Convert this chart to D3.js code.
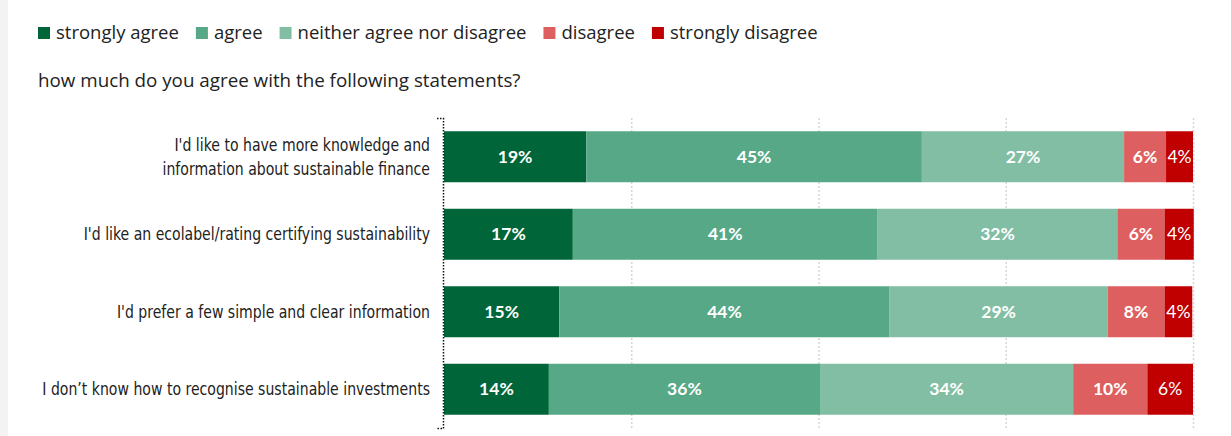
<!DOCTYPE html>
<html>
<head>
<meta charset="utf-8">
<script src="https://cdn.jsdelivr.net/npm/d3@7"></script>
<style>
  html, body { margin: 0; padding: 0; background: #fff; }
  svg { display: block; }
</style>
</head>
<body>
<svg id="chart" width="1231" height="436"></svg>
<script>
const categories = [
  ["I'd like to have more knowledge and", "information about sustainable finance"],
  ["I'd like an ecolabel/rating certifying sustainability"],
  ["I'd prefer a few simple and clear information"],
  ["I don\u2019t know how to recognise sustainable investments"]
];
const seriesNames = ["strongly agree", "agree", "neither agree nor disagree", "disagree", "strongly disagree"];
const stronglyAgree = [19.0, 17.2, 15.4, 14.0];
const agree = [44.8, 40.7, 44.1, 36.2];
const neither = [27.0, 32.0, 29.1, 33.8];
const disagree = [5.6, 6.3, 7.6, 9.9];
const stronglyDisagree = [3.6, 3.9, 3.7, 6.1];
const gridTicks = [25, 50, 75, 100];
const title = "how much do you agree with the following statements?";

const colors = ["#006639", "#57a886", "#82bea4", "#de5f60", "#c00000"];
const seriesValues = [stronglyAgree, agree, neither, disagree, stronglyDisagree];

const rows = categories.map((c, i) => {
  const r = { idx: i };
  seriesNames.forEach((s, j) => r[s] = seriesValues[j][i]);
  return r;
});

const svg = d3.select("#chart");
svg.append("rect").attr("x", 0).attr("y", 0).attr("width", 8).attr("height", 436).attr("fill", "#f3f3f3");

const legendFont = "'Open Sans', Lato, sans-serif";
const valueFont = "Lato, 'Open Sans', sans-serif";
const labelFont = "'DejaVu Sans Condensed', 'DejaVu Sans', sans-serif";

// Legend
const legend = svg.append("g");
let lx = 38;
seriesNames.forEach((s, j) => {
  const g = legend.append("g").attr("transform", `translate(${lx},0)`);
  g.append("rect").attr("x", 0).attr("y", 27).attr("width", 12).attr("height", 12).attr("fill", colors[j]);
  const t = g.append("text").attr("x", 18).attr("y", 39)
    .attr("font-family", legendFont).attr("font-size", 18.5).attr("fill", "#222").text(s);
  const w = t.node().getComputedTextLength();
  lx += 18 + w + 17;
});

svg.append("text").attr("x", 38).attr("y", 87)
  .attr("font-family", legendFont).attr("font-size", 18.8).attr("fill", "#222").text(title);

const x = d3.scaleLinear().domain([0, 100]).range([444, 1193]);
const y = d3.scaleBand().domain(rows.map(r => r.idx)).range([118, 428]).paddingInner(0.342).paddingOuter(0.171);

// Gridlines
const grid = svg.append("g").attr("transform", "translate(0,428)")
  .call(d3.axisBottom(x).tickValues(gridTicks).tickSize(-310).tickFormat(""));
grid.select(".domain").remove();
grid.selectAll("line").attr("stroke", "#d6d6d6").attr("stroke-width", 1.5).attr("stroke-dasharray", "2,2");

// Stacked bars
const stack = d3.stack().keys(seriesNames)(rows);
const layers = svg.append("g").selectAll("g").data(stack).join("g").attr("fill", (d, j) => colors[j]);
layers.selectAll("rect").data(d => d).join("rect")
  .attr("x", d => x(d[0]))
  .attr("y", d => y(d.data.idx))
  .attr("width", d => x(d[1]) - x(d[0]))
  .attr("height", y.bandwidth());

// Value labels
stack.forEach((layer, j) => {
  svg.append("g").selectAll("text").data(layer).join("text")
    .attr("x", d => (x(d[0]) + x(d[1])) / 2)
    .attr("y", d => y(d.data.idx) + y.bandwidth() / 2)
    .attr("dy", "0.35em")
    .attr("text-anchor", "middle")
    .attr("font-family", valueFont)
    .attr("font-size", 17.5)
    .attr("font-weight", j === 4 ? "normal" : "bold")
    .attr("fill", "#fff")
    .text(d => Math.round(d[1] - d[0]) + "%");
});

// Y axis
const yAxis = svg.append("g").attr("transform", "translate(443,0)")
  .call(d3.axisLeft(y).tickSize(0).tickSizeOuter(6).tickFormat(""));
yAxis.select(".domain").attr("stroke", "#111").attr("stroke-width", 1.5).attr("stroke-dasharray", "1.5,1.5");

// Category labels
categories.forEach((lines, i) => {
  const cy = y(i) + y.bandwidth() / 2;
  const t = svg.append("text").attr("text-anchor", "end")
    .attr("transform", `translate(430,${cy}) scale(0.92,1)`)
    .attr("font-family", labelFont).attr("font-size", 17).attr("fill", "#222");
  const lh = 24;
  lines.forEach((ln, k) => {
    t.append("tspan").attr("x", 0)
      .attr("y", (k - (lines.length - 1) / 2) * lh)
      .attr("dy", "0.35em").text(ln);
  });
});
</script>
</body>
</html>
